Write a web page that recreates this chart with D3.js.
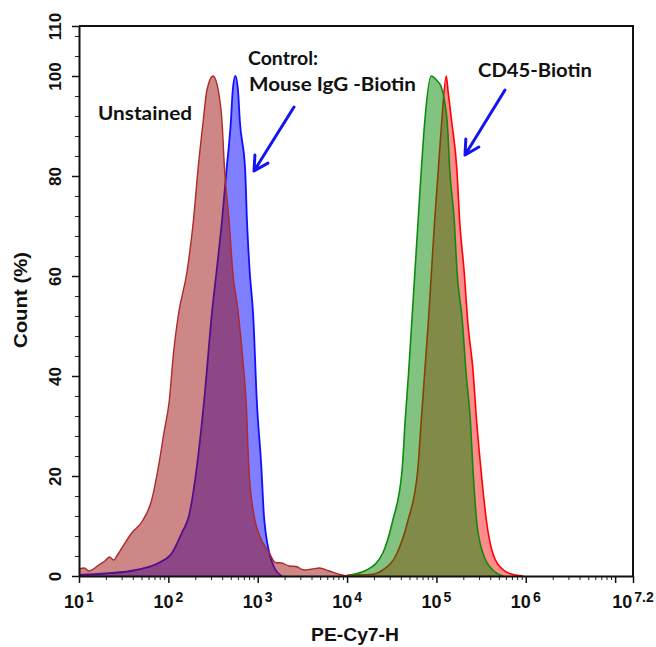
<!DOCTYPE html>
<html>
<head>
<meta charset="utf-8">
<script src="https://cdn.jsdelivr.net/npm/d3@7"></script>
<style>
  body { margin: 0; background: #fff; }
  .tick text, .lbl { font-family: "Liberation Sans", Arial, sans-serif; font-weight: bold; }
  .note { font-family: Lato, "Open Sans", sans-serif; font-weight: bold; fill: #111; }
</style>
</head>
<body>
<div id="chart"></div>
<script>
// histogram values: exponent of PE-Cy7-H and count (%)
var unstainedExp = [1.00, 1.06, 1.11, 1.16, 1.22, 1.29, 1.34, 1.39, 1.43, 1.48, 1.59, 1.71, 1.81, 1.90, 1.95, 2.01, 2.06, 2.11, 2.21, 2.28, 2.33, 2.39, 2.43, 2.50, 2.56, 2.60, 2.63, 2.68, 2.72, 2.78, 2.84, 2.87, 2.90, 2.96, 3.01, 3.13, 3.20, 3.27, 3.35, 3.43, 3.52, 3.61, 3.69, 3.80, 3.92, 4.00];
var unstainedCount = [1.4, 1.6, 1.0, 1.4, 2.2, 3.0, 3.8, 3.2, 4.2, 5.6, 8.6, 11, 15, 23, 28.6, 35, 45, 52, 61, 71, 81, 91, 97, 100, 97, 91, 81, 71, 61, 53, 42, 35, 22, 12, 8.6, 4.6, 2.7, 2.6, 2.0, 1.9, 1.2, 1.4, 1.6, 1.0, 0.3, 0];

var controlExp = [1.00, 1.30, 1.64, 1.90, 2.04, 2.15, 2.23, 2.32, 2.40, 2.49, 2.54, 2.60, 2.65, 2.70, 2.72, 2.75, 2.78, 2.80, 2.86, 2.88, 2.91, 2.95, 2.99, 3.04, 3.07, 3.09, 3.13, 3.18, 3.27];
var controlCount = [0.2, 0.5, 1.2, 2.7, 4.6, 8.6, 12, 22, 35, 53, 61, 71, 81, 91, 97, 100, 97, 91, 81, 71, 61, 52, 35, 22, 12, 8.6, 4.6, 1.9, 0];

var cd45Exp = [4.00, 4.26, 4.40, 4.56, 4.68, 4.79, 4.83, 4.87, 4.91, 4.945, 4.98, 5.02, 5.06, 5.11, 5.13, 5.17, 5.23, 5.26, 5.31, 5.35, 5.41, 5.45, 5.50, 5.56, 5.63, 5.75, 5.82, 5.97];
var cd45Count = [0.2, 0.3, 1.2, 4.6, 11, 21, 31, 41, 51, 61, 71, 81, 91, 100, 97, 91, 81, 71, 61, 51, 41, 31, 21, 11, 4.6, 1.2, 0.5, 0];

var greenExp = [4.03, 4.22, 4.40, 4.51, 4.615, 4.65, 4.69, 4.725, 4.76, 4.795, 4.83, 4.87, 4.94, 5.01, 5.05, 5.12, 5.15, 5.20, 5.23, 5.29, 5.33, 5.38, 5.41, 5.45, 5.52, 5.63, 5.75];
var greenCount = [0.2, 1.2, 4.6, 11, 21, 31, 41, 51, 61, 71, 81, 91, 100, 99, 98, 91, 81, 71, 61, 51, 41, 31, 21, 11, 4.6, 1.2, 0];

// axis ticks
var xMajorExp = [1, 2, 3, 4, 5, 6, 7];
var xLabelExp = ["1", "2", "3", "4", "5", "6", "7.2"];
var yMajor = [0, 20, 40, 60, 80, 100, 110];

var width = 656, height = 647;
var mLeft = 79, mRight = 633, mTop = 26, mBottom = 576;

var svg = d3.select("#chart").append("svg")
  .attr("width", width)
  .attr("height", height);

svg.append("rect").attr("width", width).attr("height", height).attr("fill", "#fff");

var x = d3.scaleLog().domain([10, Math.pow(10, 7.2)]).range([mLeft, mRight]);
var y = d3.scaleLinear().domain([0, 110]).range([mBottom, mTop]);

function toRows(exps, counts) {
  return exps.map(function (e, i) { return { v: Math.pow(10, e), c: counts[i] }; });
}

var area = d3.area()
  .x(function (d) { return x(d.v); })
  .y0(y(0))
  .y1(function (d) { return y(d.c); })
  .curve(d3.curveMonotoneX);

var line = d3.line()
  .x(function (d) { return x(d.v); })
  .y(function (d) { return y(d.c); })
  .curve(d3.curveMonotoneX);

// drawing order matters for the overlap colours
var series = [
  { rows: toRows(cd45Exp, cd45Count), fill: "#ff1a1a", stroke: "#ff0000", w: 1.6 },
  { rows: toRows(controlExp, controlCount), fill: "#0000ff", stroke: "#1010ff", w: 1.8 },
  { rows: toRows(greenExp, greenCount), fill: "#058705", stroke: "#0c8c0c", w: 1.6 },
  { rows: toRows(unstainedExp, unstainedCount), fill: "#9b0f0f", stroke: "#b02828", w: 1.4 }
];

svg.append("defs").append("clipPath").attr("id", "plot")
  .append("rect").attr("x", mLeft).attr("y", mTop)
  .attr("width", mRight - mLeft).attr("height", mBottom - mTop);

var g = svg.append("g").attr("clip-path", "url(#plot)");
series.forEach(function (s) {
  g.append("path").datum(s.rows).attr("d", area)
    .attr("fill", s.fill).attr("fill-opacity", 0.5);
  g.append("path").datum(s.rows).attr("d", line)
    .attr("fill", "none").attr("stroke", s.stroke).attr("stroke-width", s.w);
});

// x axis: minor then major ticks
var minor = [];
for (var p = 1; p <= 7; p++) {
  for (var k = 2; k <= 9; k++) {
    var v = k * Math.pow(10, p);
    if (v < Math.pow(10, 7.2)) minor.push(v);
  }
}
svg.append("g")
  .attr("transform", "translate(0," + mBottom + ")")
  .call(d3.axisBottom(x).tickValues(minor).tickSize(4).tickFormat(""))
  .call(function (a) { a.select(".domain").remove(); a.selectAll("line").attr("stroke", "#222"); });

var majorVals = xMajorExp.map(function (e) { return Math.pow(10, e); }).concat([Math.pow(10, 7.2)]);
svg.append("g")
  .attr("transform", "translate(0," + mBottom + ")")
  .call(d3.axisBottom(x).tickValues(majorVals).tickSize(7).tickSizeOuter(0).tickFormat(""))
  .call(function (a) {
    a.select(".domain").attr("stroke", "#111").attr("stroke-width", 2);
    a.selectAll("line").attr("stroke", "#111").attr("stroke-width", 1.5);
  });

var labels = svg.append("g").attr("class", "lbl");
xLabelExp.forEach(function (e) {
  var t = labels.append("text")
    .attr("x", x(Math.pow(10, +e)))
    .attr("y", 608)
    .attr("text-anchor", "middle")
    .attr("fill", "#111");
  t.append("tspan").attr("font-size", 18).text("10");
  t.append("tspan").attr("font-size", 14).attr("dx", 2).attr("dy", -6).text(e);
});

// y axis
svg.append("g")
  .attr("transform", "translate(" + mLeft + ",0)")
  .call(d3.axisLeft(y).tickValues(d3.range(0, 111, 4)).tickSize(4).tickFormat(""))
  .call(function (a) { a.select(".domain").remove(); a.selectAll("line").attr("stroke", "#222"); });

svg.append("g")
  .attr("transform", "translate(" + mLeft + ",0)")
  .call(d3.axisLeft(y).tickValues(yMajor).tickSize(7).tickSizeOuter(0))
  .call(function (a) {
    a.select(".domain").attr("stroke", "#111").attr("stroke-width", 2);
    a.selectAll("line").attr("stroke", "#111").attr("stroke-width", 1.5);
    a.selectAll("text")
      .attr("x", 0).attr("y", -18).attr("dy", null)
      .attr("text-anchor", "middle")
      .attr("transform", "rotate(-90)")
      .attr("font-size", 17).attr("fill", "#111");
  });

// frame top and right
svg.append("path")
  .attr("d", "M" + mLeft + "," + mTop + "H" + mRight + "V" + mBottom)
  .attr("fill", "none").attr("stroke", "#111").attr("stroke-width", 2);

// axis titles
svg.append("text")
  .attr("class", "lbl")
  .attr("transform", "translate(27,300) rotate(-90)")
  .attr("text-anchor", "middle")
  .attr("font-size", 18)
  .attr("textLength", 96).attr("lengthAdjust", "spacingAndGlyphs")
  .attr("fill", "#111")
  .text("Count (%)");

svg.append("text")
  .attr("class", "lbl")
  .attr("x", 355).attr("y", 641)
  .attr("text-anchor", "middle")
  .attr("font-size", 18)
  .attr("textLength", 88).attr("lengthAdjust", "spacingAndGlyphs")
  .attr("fill", "#111")
  .text("PE-Cy7-H");

// annotations
function note(txt, xx, yy, len) {
  svg.append("text").attr("class", "note")
    .attr("x", xx).attr("y", yy)
    .attr("font-size", 18)
    .attr("textLength", len).attr("lengthAdjust", "spacingAndGlyphs")
    .text(txt);
}
note("Unstained", 98, 120, 94);
note("Control:", 248, 65, 70);
note("Mouse IgG -Biotin", 249, 91, 167);
note("CD45-Biotin", 478, 77, 114);

function arrow(x1, y1, x2, y2) {
  var ang = Math.atan2(y2 - y1, x2 - x1);
  var L = 16, spread = 0.5;
  var a1 = [x2 - L * Math.cos(ang - spread), y2 - L * Math.sin(ang - spread)];
  var a2 = [x2 - L * Math.cos(ang + spread), y2 - L * Math.sin(ang + spread)];
  svg.append("path")
    .attr("d", "M" + x1 + "," + y1 + "L" + x2 + "," + y2 +
      "M" + a1[0] + "," + a1[1] + "L" + x2 + "," + y2 + "L" + a2[0] + "," + a2[1])
    .attr("fill", "none").attr("stroke", "#1414f0")
    .attr("stroke-width", 3).attr("stroke-linecap", "round").attr("stroke-linejoin", "round");
}
arrow(294, 107, 254, 171);
arrow(505, 90, 465, 155);
</script>
</body>
</html>
